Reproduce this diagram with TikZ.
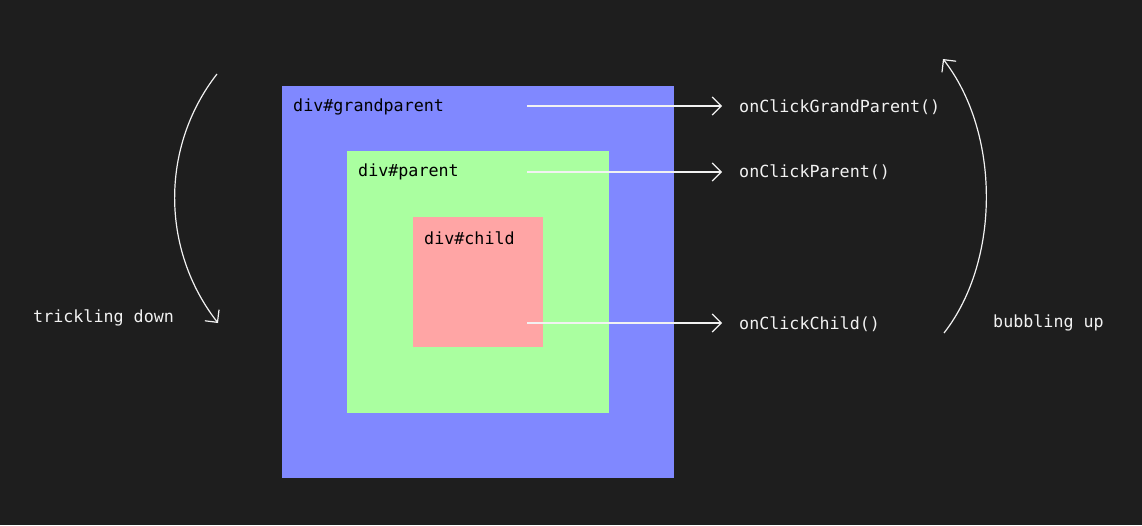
\documentclass[tikz,border=0pt]{standalone}
\usepackage{fontspec}
\setmonofont{DejaVu Sans Mono}
\usetikzlibrary{arrows.meta}
\definecolor{bg}{HTML}{1E1E1E}
\definecolor{gp}{HTML}{8088FF}
\definecolor{pa}{HTML}{AAFFA0}
\definecolor{ch}{HTML}{FFA5A5}
\definecolor{fg}{HTML}{F2F2F2}
\tikzset{
  box/.style={draw=none, inner sep=0pt, minimum width=#1, minimum height=#1, anchor=north west},
  boxlabel/.style={anchor=west, inner sep=0pt, text=black, font=\ttfamily\fontsize{16.7}{18}\selectfont},
  lbl/.style={anchor=west, inner sep=0pt, text=fg, font=\ttfamily\fontsize{16.7}{18}\selectfont},
  arr/.style={draw=fg, line width=1.2pt, -{Straight Barb[length=9pt,width=18pt]}},
  curve/.style={draw=fg, line width=1.2pt, -{Straight Barb[length=9pt,width=18pt]}}
}
\begin{document}
\begin{tikzpicture}[x=1pt,y=-1pt]
\fill[bg] (0,0) rectangle (1142,525);
\useasboundingbox (0,0) rectangle (1142,525);
\node[box=392pt, fill=gp] (gp) at (282,86) {};
\node[box=262pt, fill=pa] (pa) at (347,151) {};
\node[box=130pt, fill=ch] (ch) at (413,217) {};
\node[boxlabel] (gpl) at (293,107) {div\#grandparent};
\node[boxlabel] (pal) at (358,172) {div\#parent};
\node[boxlabel] (chl) at (424,238) {div\#child};
\coordinate (a1) at (527,106);
\coordinate (a2) at (527,172);
\coordinate (a3) at (527,323);
\coordinate (b1) at (722,106);
\coordinate (b2) at (722,172);
\coordinate (b3) at (722,323);
\node[lbl] (l1) at (739,107) {onClickGrandParent()};
\node[lbl] (l2) at (739,172) {onClickParent()};
\node[lbl] (l3) at (739,324) {onClickChild()};
\draw[arr] (a1) -- (b1);
\draw[arr] (a2) -- (b2);
\draw[arr] (a3) -- (b3);
\node[lbl] (td) at (33,318) {trickling down};
\node[lbl] (bu) at (993,323) {bubbling up};
\coordinate (ls) at (217,74);
\coordinate (le) at (218,323);
\coordinate (rs) at (944,333);
\coordinate (re) at (943,59);
\draw[curve] (ls) .. controls (160,147) and (161,250) .. (le);
\draw[curve] (rs) .. controls (1001,260) and (1000,132) .. (re);
\end{tikzpicture}
\end{document}
